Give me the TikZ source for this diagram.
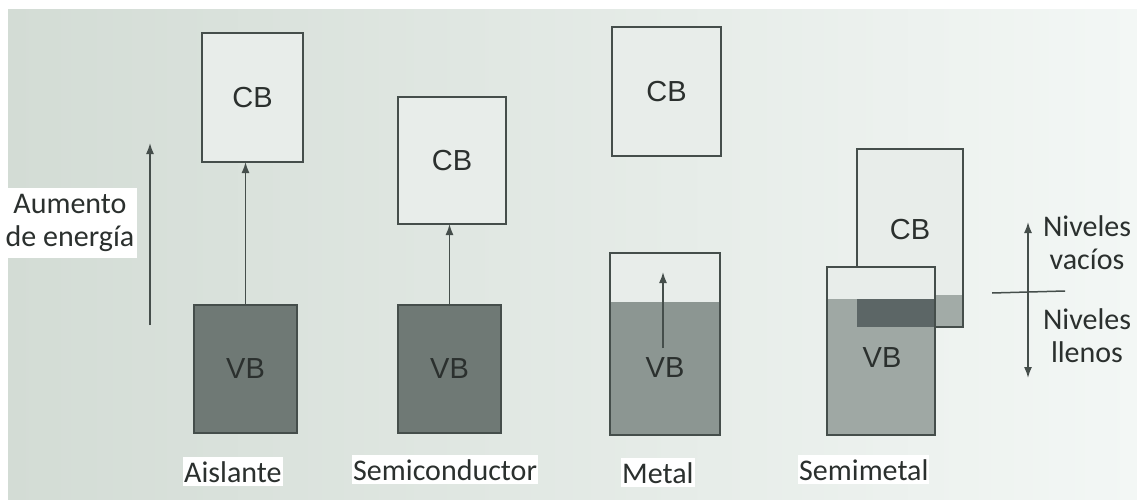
\documentclass[tikz,border=0pt]{standalone}
\usepackage{fontspec}
\usepackage{tikz}
\usetikzlibrary{arrows.meta,positioning}
\newfontfamily\labfont{Carlito}
\newfontfamily\bandfont{Liberation Sans}
\definecolor{bgleft}{HTML}{D3DCD5}
\definecolor{bgmid}{HTML}{DDE4DF}
\definecolor{bgright}{HTML}{F3F7F5}
\definecolor{cbfill}{HTML}{E8EDEA}
\definecolor{vbdark}{HTML}{6F7975}
\definecolor{vbmid}{HTML}{8C9692}
\definecolor{vblight}{HTML}{A2ABA7}
\definecolor{overlap}{HTML}{5C6666}
\definecolor{edge}{HTML}{454E4B}
\definecolor{ink}{HTML}{2B302E}

\begin{document}
\begin{tikzpicture}[x=1pt,y=-1pt,>={Latex[length=11pt,width=8pt]},
  band/.style={draw=edge,line width=2pt,inner sep=0pt,outer sep=0pt,text=ink,
    font=\bandfont\fontsize{29}{29}\selectfont},
  cb/.style={band,fill=cbfill},
  vb/.style={band,fill=vbdark},
  bandtext/.style={text=ink,font=\bandfont\fontsize{29}{29}\selectfont},
  lab/.style={text=ink,align=center,font=\labfont\fontsize{30}{33}\selectfont},
  tag/.style={lab,fill=white,inner xsep=1pt,inner ysep=4pt,anchor=base west},
  arr/.style={->,draw=edge,line width=1.6pt}]
  \useasboundingbox (0,0) rectangle (1137,500);
  \fill[white] (0,0) rectangle (1137,500);
  \shade[left color=bgleft,middle color=bgmid,right color=bgright] (8,10) rectangle (1137,500);

  \node[lab,fill=white,inner xsep=3pt,inner ysep=6pt] (energia) at (70,223) {Aumento\\de energía};
  \coordinate (e0) at (150,325);
  \coordinate (e1) at (150,143);
  \draw[arr] (e0) -- (e1);

  \node[cb,minimum width=101,minimum height=129] (cb1) at (252.5,97.5) {CB};
  \node[vb,minimum width=103,minimum height=128] (vb1) at (245.5,369) {VB};
  \draw[arr] (vb1.north) -- (vb1.north |- cb1.south);

  \node[cb,minimum width=108,minimum height=127] (cb2) at (452,160.5) {CB};
  \node[vb,minimum width=103,minimum height=128] (vb2) at (449.5,369) {VB};
  \draw[arr] (vb2.north) -- (vb2.north |- cb2.south);

  \node[cb,minimum width=109,minimum height=129] (cb3) at (666.5,91.5) {CB};
  \node[cb,minimum width=110,minimum height=182,
    path picture={\fill[vbmid] (path picture bounding box.south west)
      rectangle ([yshift=133pt]path picture bounding box.south east);}] (vb3) at (665,344) {};
  \node[bandtext] (vb3txt) at (665,368) {VB};
  \coordinate (m0) at (663,348);
  \coordinate (m1) at (663,272);
  \draw[arr] (m0) -- (m1);

  \node[cb,minimum width=106,minimum height=178,
    path picture={\fill[vblight] (path picture bounding box.south west)
      rectangle ([yshift=32pt]path picture bounding box.south east);}] (cb4) at (910,238) {};
  \node[cb,minimum width=108,minimum height=168,
    path picture={\fill[vblight!85!vbmid] (path picture bounding box.south west)
      rectangle ([yshift=136pt]path picture bounding box.south east);}] (vb4) at (881,351) {};
  \fill[overlap] (cb4.west |- 0,299) rectangle (vb4.east |- cb4.south);
  \draw[edge,line width=2pt] (vb4.south west) rectangle (vb4.north east);
  \node[bandtext] (cb4txt) at (910,230) {CB};
  \node[bandtext] (vb4txt) at (882,358) {VB};

  \coordinate (n0) at (1028,378);
  \coordinate (n1) at (1028,222);
  \draw[arr,<->] (n0) -- (n1);
  \coordinate (fl) at (992,293);
  \coordinate (fr) at (1065,291);
  \draw[edge,line width=1.5pt] (fl) -- (fr);
  \node[lab] (vacios) at (1087,243) {Niveles\\vacíos};
  \node[lab] (llenos) at (1087,336) {Niveles\\llenos};

  \node[tag] (aislante) at (183,482) {Aislante};
  \node[tag] (semicond) at (352,480) {Semiconductor};
  \node[tag] (metal) at (621,483) {Metal};
  \node[tag] (semimetal) at (798,480) {Semimetal};
\end{tikzpicture}
\end{document}
